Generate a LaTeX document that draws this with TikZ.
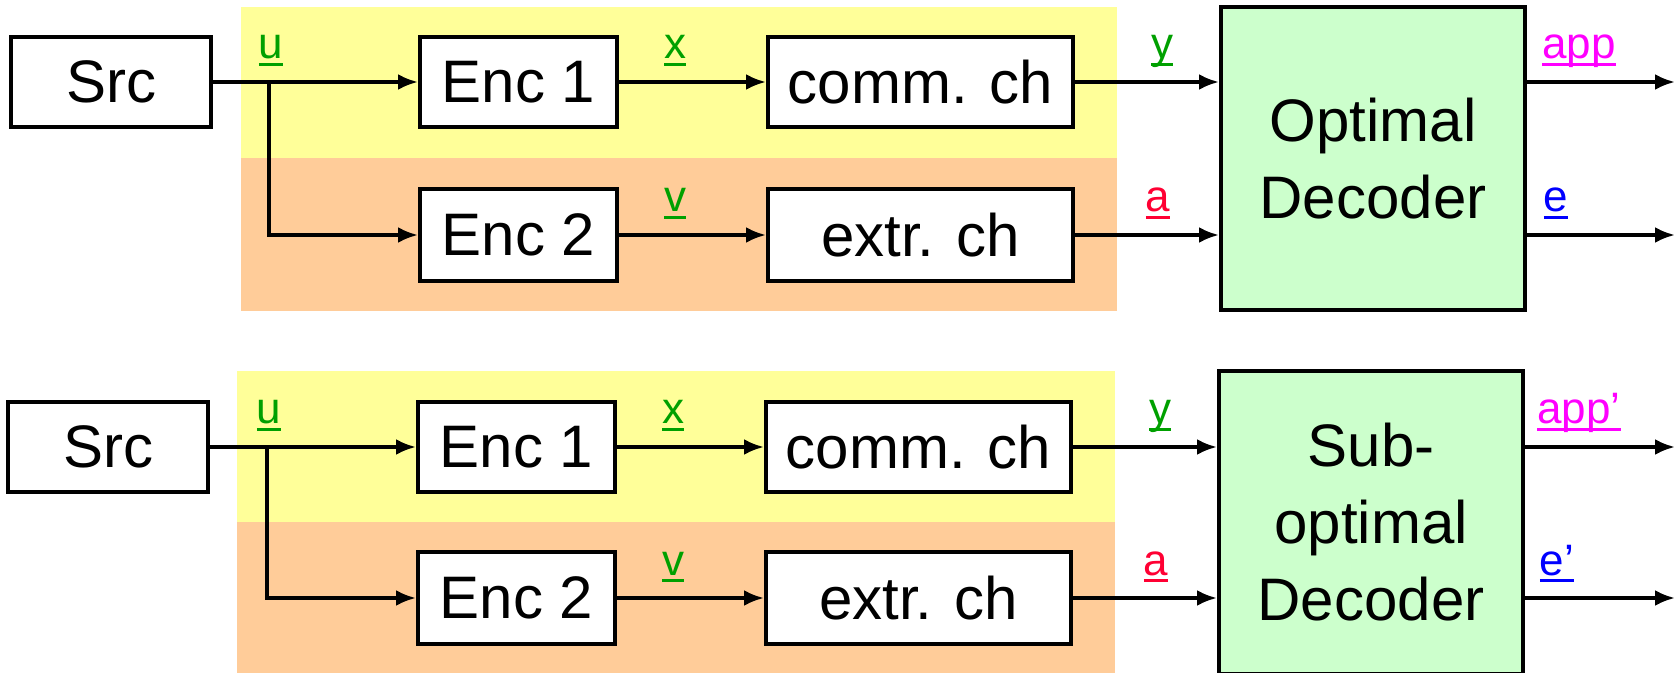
\documentclass[tikz,border=0pt]{standalone}
\usepackage{fontspec}
\setmainfont{Liberation Sans}
\usetikzlibrary{arrows.meta}
\definecolor{bgyellow}{HTML}{FFFF99}
\definecolor{bgorange}{HTML}{FFCC99}
\definecolor{decgreen}{HTML}{CCFFCC}
\definecolor{lgreen}{HTML}{00A000}
\definecolor{lred}{HTML}{FF0033}
\definecolor{lmag}{HTML}{FF00FF}
\definecolor{lblue}{HTML}{0000FF}
\newcommand\ulab[1]{\setbox0\hbox{#1}\rlap{\rule[-3.5pt]{\wd0}{1.5pt}}\box0}
\begin{document}
\begin{tikzpicture}[x=0.5pt,y=-0.5pt,
 blk/.style={draw,line width=2pt,fill=white,minimum height=45pt,inner sep=0pt,font=\fontsize{30}{38}\selectfont},
 dec/.style={draw,line width=2pt,fill=decgreen,minimum width=152pt,minimum height=151.5pt,align=center,inner sep=0pt,font=\fontsize{30}{38.5}\selectfont},
 conn/.style={line width=1.8pt,-{Latex[length=10pt,width=8pt]}},
 lab/.style={anchor=base,inner sep=0pt,font=\fontsize{22}{26}\selectfont},
]
\useasboundingbox (0,0) rectangle (1677,673);
% ---------- top ----------
\fill[bgyellow] (241,7) rectangle (1117,158);
\fill[bgorange] (241,158) rectangle (1117,311);
\node[blk,minimum width=100pt] (src) at (111,82) {Src};
\node[blk,minimum width=98.5pt] (enca) at (518.5,82) {Enc 1};
\node[blk,minimum width=152.5pt] (comm) at (920.5,82) {comm. ch};
\node[blk,minimum width=98.5pt,minimum height=46pt] (encb) at (518.5,235) {Enc 2};
\node[blk,minimum width=152.5pt,minimum height=46pt] (extr) at (920.5,235) {extr. ch};
\node[dec] (dec) at (1373,158.5) {Optimal\\Decoder};
\coordinate (br) at (269,82);
\coordinate (oa) at (1675,82);
\coordinate (ob) at (1675,235);
\draw[conn] (src) -- (enca);
\draw[conn] (br) |- (encb);
\draw[conn] (enca) -- (comm);
\draw[conn] (encb) -- (extr);
\draw[conn] (comm.east) -- (dec.west |- comm.east);
\draw[conn] (extr.east) -- (dec.west |- extr.east);
\draw[conn] (dec.east |- oa) -- (oa);
\draw[conn] (dec.east |- ob) -- (ob);
\node[lab,text=lgreen] (lu) at (271,59) {\ulab{u}};
\node[lab,text=lgreen] (lx) at (675,59) {\ulab{x}};
\node[lab,text=lgreen] (lv) at (675,212) {\ulab{v}};
\node[lab,text=lgreen] (ly) at (1162,59) {\ulab{y}};
\node[lab,text=lred] (la) at (1158,212) {\ulab{a}};
\node[lab,text=lmag] (lapp) at (1579,59) {\ulab{app}};
\node[lab,text=lblue] (le) at (1556,212) {\ulab{e}};
% ---------- bottom ----------
\begin{scope}[shift={(-2,364)}]
\fill[bgyellow] (239,7) rectangle (1117,158);
\fill[bgorange] (239,158) rectangle (1117,311);
\node[blk,minimum width=100pt] (bsrc) at (110,83) {Src};
\node[blk,minimum width=98.5pt] (benca) at (518.5,83) {Enc 1};
\node[blk,minimum width=152.5pt] (bcomm) at (920.5,83) {comm. ch};
\node[blk,minimum width=98.5pt,minimum height=46pt] (bencb) at (518.5,234) {Enc 2};
\node[blk,minimum width=152.5pt,minimum height=46pt] (bextr) at (920.5,234) {extr. ch};
\node[dec] (bdec) at (1373,158.5) {Sub-\\optimal\\Decoder};
\coordinate (bbr) at (269,83);
\coordinate (boa) at (1677,83);
\coordinate (bob) at (1677,234);
\draw[conn] (bsrc) -- (benca);
\draw[conn] (bbr) |- (bencb);
\draw[conn] (benca) -- (bcomm);
\draw[conn] (bencb) -- (bextr);
\draw[conn] (bcomm.east) -- (bdec.west |- bcomm.east);
\draw[conn] (bextr.east) -- (bdec.west |- bextr.east);
\draw[conn] (bdec.east |- boa) -- (boa);
\draw[conn] (bdec.east |- bob) -- (bob);
\node[lab,text=lgreen] (blu) at (271,60) {\ulab{u}};
\node[lab,text=lgreen] (blx) at (675,60) {\ulab{x}};
\node[lab,text=lgreen] (blv) at (675,211) {\ulab{v}};
\node[lab,text=lgreen] (bly) at (1162,60) {\ulab{y}};
\node[lab,text=lred] (bla) at (1158,211) {\ulab{a}};
\node[lab,text=lmag] (blapp) at (1581,60) {\ulab{app'}};
\node[lab,text=lblue] (ble) at (1559,211) {\ulab{e'}};
\end{scope}
\end{tikzpicture}
\end{document}
